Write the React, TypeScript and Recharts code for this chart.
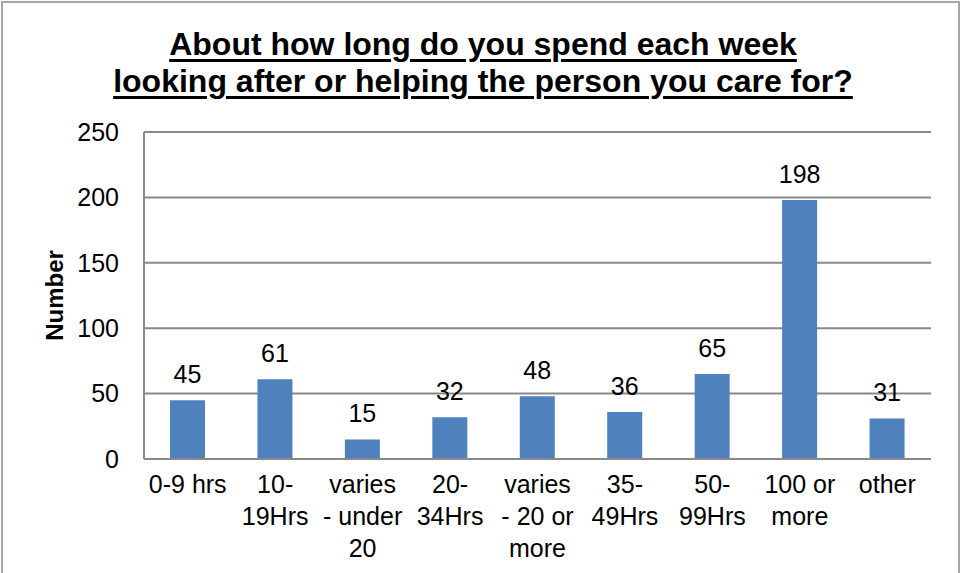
import { BarChart, Bar, XAxis, YAxis, CartesianGrid, LabelList } from "recharts";

const categories = [
  "0-9 hrs",
  "10-\n19Hrs",
  "varies\n- under\n20",
  "20-\n34Hrs",
  "varies\n- 20 or\nmore",
  "35-\n49Hrs",
  "50-\n99Hrs",
  "100 or\nmore",
  "other",
];
const counts = [45, 61, 15, 32, 48, 36, 65, 198, 31];
const yTicks = [0, 50, 100, 150, 200, 250];

const titleLines = [
  "About how long do you spend each week",
  "looking after or helping the person you care for?",
];

const FONT = "'Liberation Sans', Arial, Helvetica, sans-serif";
const GRID = "#898989";

const data = categories.map((name, i) => ({ name, value: counts[i] }));

// Excel-style multi-line category labels (split on \n)
function CategoryTick(props: any) {
  const { x, y, payload } = props;
  const lines = String(payload.value).split("\n");
  return (
    <text x={x} y={y} textAnchor="middle" fill="#000" fontSize={25} fontFamily={FONT}>
      {lines.map((l, i) => (
        <tspan key={i} x={x} dy={i === 0 ? "0.71em" : 32}>
          {l}
        </tspan>
      ))}
    </text>
  );
}

function YTitle(props: any) {
  const vb = props.viewBox || {};
  const cx = 54;
  const cy = (vb.y ?? 132) + (vb.height ?? 327) / 2;
  return (
    <text
      x={cx}
      y={cy}
      transform={`rotate(-90, ${cx}, ${cy})`}
      textAnchor="middle"
      dominantBaseline="central"
      fontSize={24}
      fontWeight="bold"
      fontFamily={FONT}
      fill="#000"
    >
      Number
    </text>
  );
}

export default function App() {
  return (
    <div
      style={{
        position: "absolute",
        left: 0,
        top: 0,
        width: 960,
        height: 573,
        overflow: "hidden",
        background: "#fff",
        fontFamily: FONT,
      }}
    >
      {/* chart frame, bottom edge falls outside the picture */}
      <div
        style={{
          position: "absolute",
          left: 1,
          top: 1,
          width: 955,
          height: 640,
          border: "2px solid #a6a6a6",
        }}
      />
      <div
        style={{
          position: "absolute",
          left: 3,
          top: 26,
          width: 960,
          textAlign: "center",
          fontSize: 32,
          lineHeight: "36.5px",
          fontWeight: "bold",
          color: "#000",
          textDecoration: "underline",
          textDecorationThickness: "3px",
          textUnderlineOffset: "4px",
        }}
      >
        {titleLines.map((t) => (
          <div key={t}>{t}</div>
        ))}
      </div>
      <div style={{ position: "absolute", left: 0, top: 0 }}>
        <BarChart
          width={960}
          height={573}
          data={data}
          margin={{ top: 132, right: 29, left: 0, bottom: 0 }}
          barCategoryGap={0}
        >
          <CartesianGrid vertical={false} stroke={GRID} strokeWidth={2} />
          <XAxis
            dataKey="name"
            interval={0}
            height={114}
            tickSize={0}
            tickMargin={16}
            axisLine={{ stroke: GRID, strokeWidth: 2 }}
            tick={<CategoryTick />}
          />
          <YAxis
            width={144}
            domain={[0, 250]}
            ticks={yTicks}
            tickSize={0}
            tickMargin={25}
            axisLine={{ stroke: GRID, strokeWidth: 2 }}
            tick={{ fill: "#000", fontSize: 25, fontFamily: FONT }}
            label={<YTitle />}
          />
          <Bar dataKey="value" fill="#4F81BD" barSize={35} isAnimationActive={false}>
            <LabelList
              dataKey="value"
              position="top"
              offset={17}
              fill="#000"
              fontSize={25}
              fontFamily={FONT}
            />
          </Bar>
        </BarChart>
      </div>
    </div>
  );
}
